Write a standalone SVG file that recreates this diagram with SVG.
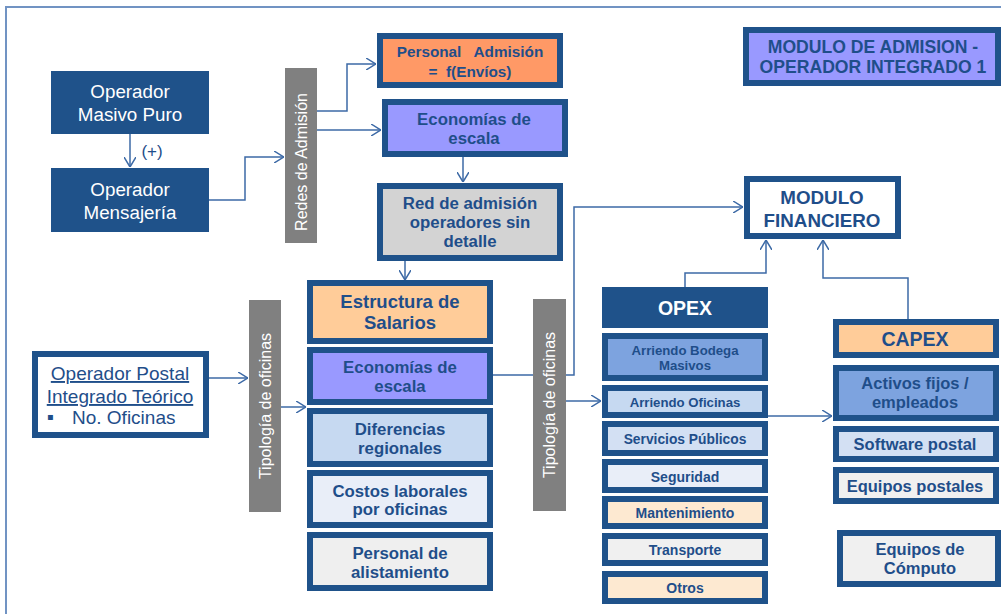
<svg xmlns="http://www.w3.org/2000/svg" width="1001" height="614" viewBox="0 0 1001 614">
<style>
.t{font-family:"Liberation Sans",Arial,sans-serif;text-anchor:middle}
.b{font-weight:bold;fill:#1f4e8a}
.w{fill:#ffffff}
.box{stroke:#1f528a;stroke-width:6}
.conn{fill:none;stroke:#3d6aa6;stroke-width:1.5}
.bar{fill:#808080}
.solid{fill:#1f528a}
</style>
<defs>
<marker id="arr" viewBox="0 0 10 12" refX="10" refY="6" markerWidth="10" markerHeight="12" markerUnits="userSpaceOnUse" orient="auto">
<path d="M0,0 L10,6 L0,12" fill="none" stroke="#3d6aa6" stroke-width="1.5"/>
</marker>
</defs>
<rect width="1001" height="614" fill="#ffffff"/>
<g id="frame" fill="none" stroke="#7193c3" stroke-width="2">
<path d="M6,614 V7 H1001"/>
</g>
<g id="connectors">
<path class="conn" d="M130,134 V167" marker-end="url(#arr)"/>
<path class="conn" d="M209,200 H245 V157 H284" marker-end="url(#arr)"/>
<path class="conn" d="M317,111 H347 V64 H376" marker-end="url(#arr)"/>
<path class="conn" d="M317,130 H381" marker-end="url(#arr)"/>
<path class="conn" d="M463,157 V182" marker-end="url(#arr)"/>
<path class="conn" d="M405,261 V280" marker-end="url(#arr)"/>
<path class="conn" d="M209,378 H248" marker-end="url(#arr)"/>
<path class="conn" d="M281,407 H306" marker-end="url(#arr)"/>
<path class="conn" d="M493,375 H574 V207 H743" marker-end="url(#arr)"/>
<path class="conn" d="M566,401 H601" marker-end="url(#arr)"/>
<path class="conn" d="M768,416 H832" marker-end="url(#arr)"/>
<path class="conn" d="M685,287 V273 H766 V240" marker-end="url(#arr)"/>
<path class="conn" d="M908,319 V278 H823 V240" marker-end="url(#arr)"/>
<text class="t" x="152" y="157" font-size="17" fill="#1f4e8a">(+)</text>
</g>
<g id="masivo">
<rect class="solid" x="51" y="71" width="158" height="63"/>
<text class="t w" font-size="18.8" x="130" y="98">Operador</text>
<text class="t w" font-size="18.8" x="130" y="121">Masivo Puro</text>
</g>
<g id="mensajeria">
<rect class="solid" x="51" y="168" width="158" height="64"/>
<text class="t w" font-size="18.8" x="130" y="196">Operador</text>
<text class="t w" font-size="18.8" x="130" y="219">Mensajería</text>
</g>
<g id="redes">
<rect class="bar" x="285" y="68" width="32" height="175"/>
<text class="t w" font-size="16" transform="translate(307,162) rotate(-90)">Redes de Admisión</text>
</g>
<g id="personal-admision">
<rect class="box" x="380" y="36" width="180" height="49" fill="#ff9966"/>
<text class="t b" font-size="15.3" x="470" y="57" xml:space="preserve" style="white-space:pre">Personal   Admisión</text>
<text class="t b" font-size="15.3" x="470" y="77" xml:space="preserve" style="white-space:pre">=  f(Envíos)</text>
</g>
<g id="economias1">
<rect class="box" x="385" y="102" width="180" height="52" fill="#9999ff"/>
<text class="t b" font-size="16.8" x="474" y="125">Economías de</text>
<text class="t b" font-size="16.8" x="474" y="144">escala</text>
</g>
<g id="red-admision">
<rect class="box" x="380" y="186" width="180" height="72" fill="#d3d3d3"/>
<text class="t b" font-size="16.8" x="470" y="209">Red de admisión</text>
<text class="t b" font-size="16.8" x="470" y="228">operadores sin</text>
<text class="t b" font-size="16.8" x="470" y="247">detalle</text>
</g>
<g id="modulo-admision">
<rect class="box" x="746" y="30" width="252" height="53" fill="#9999ff"/>
<text class="t b" font-size="17.6" x="873" y="53">MODULO DE ADMISION -</text>
<text class="t b" font-size="17.6" x="873" y="73">OPERADOR INTEGRADO 1</text>
</g>
<g id="modulo-financiero">
<rect class="box" x="747" y="179" width="151" height="57" fill="#ffffff"/>
<text class="t b" font-size="18.8" x="822" y="204">MODULO</text>
<text class="t b" font-size="18.8" x="822" y="227">FINANCIERO</text>
</g>
<g id="operador-postal">
<rect class="box" x="35" y="354" width="171" height="81" fill="#ffffff"/>
<text class="t" font-size="19" x="120" y="380" fill="#1f4e8a" text-decoration="underline">Operador Postal</text>
<text class="t" font-size="19" x="120" y="403" fill="#1f4e8a" text-decoration="underline">Integrado Teórico</text>
<text font-family="DejaVu Sans,sans-serif" font-size="10" x="47" y="420" fill="#1f4e8a">▪</text>
<text font-family="Liberation Sans,Arial,sans-serif" font-size="19" x="72" y="424" fill="#1f4e8a">No. Oficinas</text>
</g>
<g id="tipologia1">
<rect class="bar" x="249" y="300" width="32" height="212"/>
<text class="t w" font-size="16" transform="translate(271,406) rotate(-90)">Tipología de oficinas</text>
</g>
<g id="estructura">
<rect class="box" x="310" y="283" width="180" height="58" fill="#ffcc99"/>
<text class="t b" font-size="18.5" x="400" y="308">Estructura de</text>
<text class="t b" font-size="18.5" x="400" y="329">Salarios</text>
</g>
<g id="economias2">
<rect class="box" x="310" y="350" width="180" height="52" fill="#9999ff"/>
<text class="t b" font-size="16.8" x="400" y="373">Economías de</text>
<text class="t b" font-size="16.8" x="400" y="392">escala</text>
</g>
<g id="diferencias">
<rect class="box" x="310" y="411" width="180" height="53" fill="#c6d9f1"/>
<text class="t b" font-size="16.8" x="400" y="435">Diferencias</text>
<text class="t b" font-size="16.8" x="400" y="454">regionales</text>
</g>
<g id="costos">
<rect class="box" x="310" y="473" width="180" height="52" fill="#e9eef8"/>
<text class="t b" font-size="16.8" x="400" y="497">Costos laborales</text>
<text class="t b" font-size="16.8" x="400" y="515">por oficinas</text>
</g>
<g id="alistamiento">
<rect class="box" x="310" y="535" width="180" height="53" fill="#efefef"/>
<text class="t b" font-size="16.8" x="400" y="559">Personal de</text>
<text class="t b" font-size="16.8" x="400" y="578">alistamiento</text>
</g>
<g id="tipologia2">
<rect class="bar" x="533" y="299" width="33" height="212"/>
<text class="t w" font-size="16" transform="translate(555,405) rotate(-90)">Tipología de oficinas</text>
</g>
<g id="opex">
<rect class="solid" x="602" y="287" width="166" height="41"/>
<text class="t w" font-size="19.5" font-weight="bold" x="685" y="315">OPEX</text>
</g>
<g id="arriendo-bodega">
<rect class="box" x="605" y="336" width="160" height="42" fill="#7da3df"/>
<text class="t b" font-size="13.2" x="685" y="355">Arriendo Bodega</text>
<text class="t b" font-size="13.2" x="685" y="370">Masivos</text>
</g>
<g id="arriendo-oficinas">
<rect class="box" x="605" y="388" width="160" height="27" fill="#c6d9f1"/>
<text class="t b" font-size="13.2" x="685" y="407">Arriendo Oficinas</text>
</g>
<g id="servicios">
<rect class="box" x="605" y="424" width="160" height="29" fill="#d3e0f3"/>
<text class="t b" font-size="13.8" x="685" y="444">Servicios Públicos</text>
</g>
<g id="seguridad">
<rect class="box" x="605" y="462" width="160" height="28" fill="#e9eef8"/>
<text class="t b" font-size="14" x="685" y="482">Seguridad</text>
</g>
<g id="mantenimiento">
<rect class="box" x="605" y="499" width="160" height="27" fill="#fde9d1"/>
<text class="t b" font-size="14" x="685" y="518">Mantenimiento</text>
</g>
<g id="transporte">
<rect class="box" x="605" y="536" width="160" height="27" fill="#f0f0f0"/>
<text class="t b" font-size="14" x="685" y="555">Transporte</text>
</g>
<g id="otros">
<rect class="box" x="605" y="574" width="160" height="27" fill="#fde9d1"/>
<text class="t b" font-size="14" x="685" y="593">Otros</text>
</g>
<g id="capex">
<rect class="box" x="836" y="322" width="160" height="33" fill="#ffcc99"/>
<text class="t b" font-size="19.5" x="915" y="346">CAPEX</text>
</g>
<g id="activos">
<rect class="box" x="836" y="368" width="160" height="50" fill="#7da3df"/>
<text class="t b" font-size="16.5" x="915" y="389">Activos fijos /</text>
<text class="t b" font-size="16.5" x="915" y="408">empleados</text>
</g>
<g id="software">
<rect class="box" x="836" y="429" width="160" height="30" fill="#d3e0f3"/>
<text class="t b" font-size="16.5" x="915" y="450">Software postal</text>
</g>
<g id="equipos-postales">
<rect class="box" x="836" y="470" width="160" height="31" fill="#f0f0f0"/>
<text class="t b" font-size="16.5" x="915" y="492">Equipos postales</text>
</g>
<g id="equipos-computo">
<rect class="box" x="840" y="533" width="158" height="51" fill="#f0f0f0"/>
<text class="t b" font-size="16.5" x="920" y="555">Equipos de</text>
<text class="t b" font-size="16.5" x="920" y="574">Cómputo</text>
</g>
</svg>
